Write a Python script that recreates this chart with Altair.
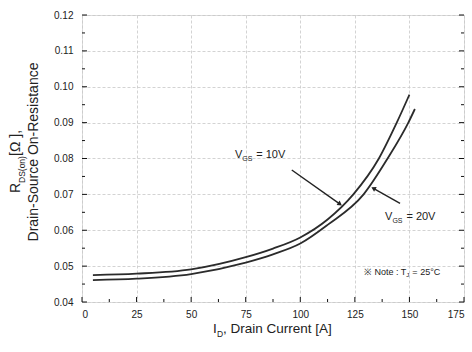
import math
import altair as alt
import pandas as pd

# ---------------- data ----------------
id_10v = [5, 25, 50, 75, 87.5, 100, 112.5, 124.3, 136, 144.2, 150]
r_10v = [0.0475, 0.0479, 0.0491, 0.0525, 0.0549, 0.0580, 0.0630, 0.0700, 0.0800, 0.0900, 0.0978]
id_20v = [5, 25, 50, 75, 87.5, 100, 112.5, 129, 140, 149.5, 152.5]
r_20v = [0.0461, 0.0465, 0.0478, 0.0510, 0.0533, 0.0563, 0.0615, 0.0700, 0.0800, 0.0900, 0.0938]

x_ticks = [0, 25, 50, 75, 100, 125, 150, 175]
x_minor = [12.5, 37.5, 62.5, 87.5, 112.5, 137.5, 162.5]
y_ticks = [0.04, 0.05, 0.06, 0.07, 0.08, 0.09, 0.10, 0.11, 0.12]
y_minor = [0.045, 0.055, 0.065, 0.075, 0.085, 0.095, 0.105, 0.115]

NB = "\u00a0"
ann_x = [73.4, 142.2]
ann_y = [0.0810, 0.0637]
ann_main = ["V", "V"]
ann_sub = ["GS", "GS"]
ann_rest = ["=" + NB + "10V", "=" + NB + "20V"]

arrow_x0 = [96.1, 145.7]
arrow_y0 = [0.0768, 0.0675]
arrow_x1 = [118.2, 133.5]
arrow_y1 = [0.0673, 0.0717]

note_x = [148.6]
note_y = [0.0484]
note_main = ["※ Note : T"]
note_sub = ["J"]
note_rest = ["=" + NB + "25°C"]

x_title = ["I", "D", ", Drain Current [A]"]
y_title1 = ["R", "DS(on)", NB + "[Ω" + NB + "],"]
y_title2 = ["Drain-Source On-Resistance"]

# ---------------- layout ----------------
W, H = 382, 287
XD = [0, 175]
YD = [0.04, 0.12]
FONT = "Liberation Sans"
INK = "#222222"

xscale = alt.Scale(domain=XD, nice=False, zero=False)
yscale = alt.Scale(domain=YD, nice=False, zero=False)
xaxis = alt.Axis(values=x_ticks, title=None, grid=True, gridColor="#c8c8c8",
                 gridDash=[3, 2], gridWidth=0.8, ticks=False, domain=False,
                 labelFont=FONT, labelFontSize=10, labelColor=INK, labelPadding=7)
yaxis = alt.Axis(values=y_ticks, format=".2f", title=None, grid=True, gridColor="#c8c8c8",
                 gridDash=[3, 2], gridWidth=0.8, ticks=False, domain=False,
                 labelFont=FONT, labelFontSize=10, labelColor=INK, labelPadding=9)


def X(f):
    return alt.X(f, type="quantitative", scale=xscale, axis=xaxis)


def Y(f):
    return alt.Y(f, type="quantitative", scale=yscale, axis=yaxis)


curves = pd.DataFrame({
    "I": id_10v + id_20v,
    "R": r_10v + r_20v,
    "s": ["10V"] * len(id_10v) + ["20V"] * len(id_20v),
})

lines = alt.Chart(curves).mark_line(color="#2b2b2b", strokeWidth=1.8, interpolate="monotone").encode(
    x=X("I"), y=Y("R"), detail="s:N")

xt_major = pd.DataFrame({"I": x_ticks})
xt_minor = pd.DataFrame({"I": x_minor})
yt_major = pd.DataFrame({"R": y_ticks})
yt_minor = pd.DataFrame({"R": y_minor})

tick_style = dict(color="#111111", strokeWidth=1)
ticks = [
    alt.Chart(xt_major).mark_rule(**tick_style).encode(x=X("I"), y=alt.value(H), y2=alt.value(H - 5)),
    alt.Chart(xt_minor).mark_rule(**tick_style).encode(x=X("I"), y=alt.value(H), y2=alt.value(H - 3)),
    alt.Chart(yt_major).mark_rule(**tick_style).encode(y=Y("R"), x=alt.value(0), x2=alt.value(5)),
    alt.Chart(yt_minor).mark_rule(**tick_style).encode(y=Y("R"), x=alt.value(0), x2=alt.value(3)),
    alt.Chart(yt_major).mark_rule(**tick_style).encode(y=Y("R"), x=alt.value(W), x2=alt.value(W - 5)),
    alt.Chart(yt_minor).mark_rule(**tick_style).encode(y=Y("R"), x=alt.value(W), x2=alt.value(W - 3)),
]


def px(v):
    return (v - XD[0]) / (XD[1] - XD[0]) * W


def py(v):
    return H - (v - YD[0]) / (YD[1] - YD[0]) * H


angles = []
for a, b, c, d in zip(arrow_x0, arrow_y0, arrow_x1, arrow_y1):
    dx = px(c) - px(a)
    dy = py(d) - py(b)
    angles.append(math.degrees(math.atan2(dx, -dy)) % 360)

arrows = pd.DataFrame({"I": arrow_x0, "R": arrow_y0, "I2": arrow_x1, "R2": arrow_y1,
                       "ang": angles})
arrow_lines = alt.Chart(arrows).mark_rule(color="#222222", strokeWidth=1.4).encode(
    x=X("I"), y=Y("R"), x2="I2", y2="R2")
arrow_heads = alt.Chart(arrows).mark_point(shape="triangle-up", filled=True, color="#222222",
                                           size=28, opacity=1).encode(
    x=X("I2"), y=Y("R2"), angle=alt.Angle("ang:Q", scale=None))

ann = pd.DataFrame({"I": ann_x, "R": ann_y, "m": ann_main, "s": ann_sub, "r": ann_rest})
ann_m = alt.Chart(ann).mark_text(font=FONT, fontSize=11, color=INK, align="right",
                                 baseline="middle").encode(x=X("I"), y=Y("R"), text="m:N")
ann_s = alt.Chart(ann).mark_text(font=FONT, fontSize=7, color=INK, align="left",
                                 baseline="middle", dy=4).encode(x=X("I"), y=Y("R"), text="s:N")
ann_r = alt.Chart(ann).mark_text(font=FONT, fontSize=11, color=INK, align="left",
                                 baseline="middle", dx=14).encode(x=X("I"), y=Y("R"), text="r:N")

note = pd.DataFrame({"I": note_x, "R": note_y, "m": note_main, "s": note_sub, "r": note_rest})
note_m = alt.Chart(note).mark_text(font=FONT, fontSize=9, color=INK, align="right",
                                   baseline="middle").encode(x=X("I"), y=Y("R"), text="m:N")
note_s = alt.Chart(note).mark_text(font=FONT, fontSize=6, color=INK, align="left",
                                   baseline="middle", dy=3).encode(x=X("I"), y=Y("R"), text="s:N")
note_r = alt.Chart(note).mark_text(font=FONT, fontSize=9, color=INK, align="left",
                                   baseline="middle", dx=6).encode(x=X("I"), y=Y("R"), text="r:N")


def title_piece(s, x, y, size, align="left", baseline="alphabetic", angle=0):
    return alt.Chart(pd.DataFrame({"t": [s]})).mark_text(
        font=FONT, color=INK, fontSize=size, align=align, baseline=baseline, angle=angle
    ).encode(text="t:N", x=alt.value(x), y=alt.value(y))


titles = [
    title_piece(x_title[0], 131, 318, 13.5),
    title_piece(x_title[1], 135, 322, 8.5),
    title_piece(x_title[2], 141, 318, 13.5),
    title_piece(y_title1[0], -62, 178, 14, angle=270),
    title_piece(y_title1[1], -57, 168, 8.5, angle=270),
    title_piece(y_title1[2], -62, 141, 14, angle=270),
    title_piece(y_title2[0], -48, 137, 14, align="center", baseline="middle", angle=270),
]

chart = alt.layer(
    lines, *ticks, arrow_lines, arrow_heads, ann_m, ann_s, ann_r, note_m, note_s, note_r, *titles
).properties(
    width=W, height=H,
    autosize=alt.AutoSizeParams(type="none"),
    padding={"left": 82, "top": 15, "right": 8, "bottom": 50},
).configure_view(
    stroke="#111111", strokeWidth=1.5
).configure(background="white")

chart.save("out.html", embed_options={"renderer": "svg", "actions": False})
